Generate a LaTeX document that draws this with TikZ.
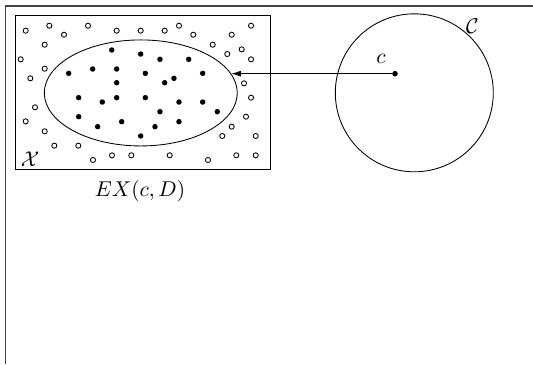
\documentclass[tikz,border=0pt]{standalone}
\usetikzlibrary{arrows.meta,shapes.geometric}
\begin{document}
\begin{tikzpicture}[
  posdot/.style={fill=black},
  negdot/.style={draw=black,line width=.4pt},
  frameline/.style={draw=black!75,line width=.6pt}]
 \useasboundingbox (0,0) rectangle (8.752,5.977);
 \draw[frameline] (0.09,0) |- (8.752,5.88);
 \draw (0.258,3.197) rectangle (4.445,5.72);
 \node at (0.493,3.366) {$\mathcal{X}$};
 \node[draw,ellipse,inner sep=0pt,minimum width=3.169cm,minimum height=1.741cm] (conc) at (2.312,4.451) {};
 \node at (2.299,2.841) {$EX(c,D)$};
 \node[draw,circle,inner sep=0pt,minimum size=2.594cm] (cls) at (6.803,4.453) {};
 \node at (7.755,5.539) {$\mathcal{C}$};
 \node[circle,fill,inner sep=0pt,minimum size=2.6pt] (c) at (6.486,4.767) {};
 \node at (6.256,5.008) {$c$};
 \draw[-{Latex[length=4.5pt,width=2.8pt]}] (c) -- (c -| conc.12);
 % examples inside the concept
 \foreach \x/\y in {1.834/5.156,2.310/5.090,2.627/5.003,3.098/5.003,
   1.128/4.773,1.522/4.844,1.916/4.844,2.386/4.773,3.328/4.773,
   1.916/4.619,2.704/4.619,2.857/4.691,1.292/4.373,1.680/4.302,
   1.916/4.373,2.386/4.373,2.939/4.302,3.328/4.302,3.568/4.143,
   2.627/4.143,1.292/4.061,1.604/3.897,1.998/3.979,2.545/3.897,
   2.939/3.979,2.310/3.744}
   \fill[posdot] (\x,\y) circle (.045);
 % examples outside the concept
 \foreach \x/\y in {0.422/5.473,0.810/5.555,1.051/5.407,1.445/5.555,
   1.916/5.473,2.310/5.473,2.704/5.473,2.939/5.555,3.174/5.407,
   3.805/5.407,4.122/5.555,0.734/5.243,3.493/5.243,3.969/5.167,
   3.732/5.090,4.122/5.003,0.340/5.003,0.734/4.849,0.498/4.691,
   4.007/4.609,4.122/4.373,0.575/4.215,4.039/4.061,0.422/3.985,
   0.734/3.821,3.805/3.897,3.650/3.744,4.199/3.744,0.892/3.585,
   1.286/3.585,1.527/3.350,1.839/3.427,2.156/3.427,2.787/3.427,
   3.415/3.350,3.880/3.427,4.199/3.427}
   \draw[negdot] (\x,\y) circle (.042);
\end{tikzpicture}
\end{document}
